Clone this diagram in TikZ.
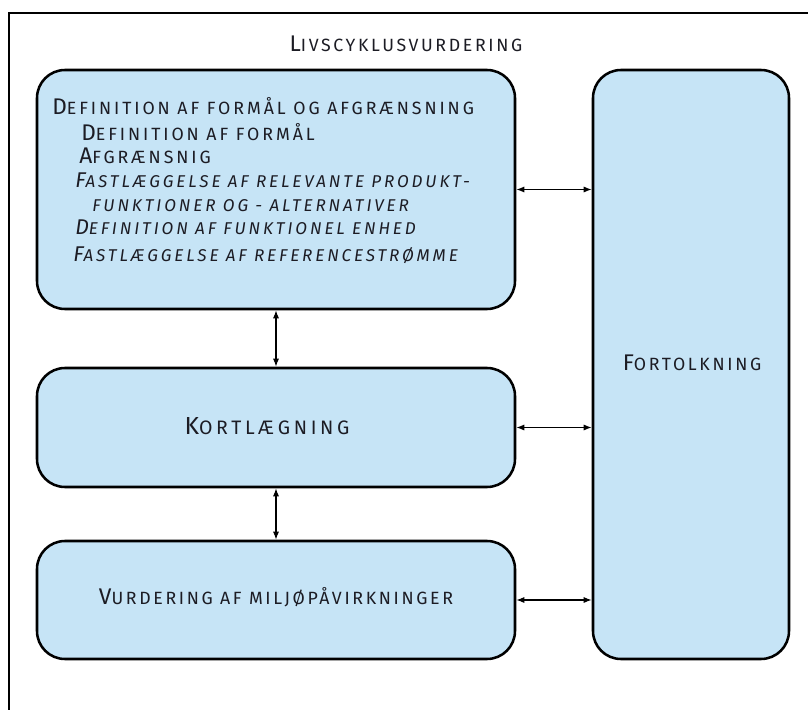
\documentclass[tikz,border=0pt]{standalone}
\usepackage{fontspec}
\setmainfont{Fira Sans}
\usetikzlibrary{arrows.meta}
\definecolor{boxfill}{RGB}{198,228,246}
\definecolor{ink}{RGB}{28,28,36}
\newcommand\SCsp[3][15]{{\fontsize{17}{18}\selectfont #2}{\fontsize{13.3}{14}\selectfont\addfontfeature{LetterSpace=#1}#3}}
\newcommand\SClarge[2]{{\fontsize{18.5}{20}\selectfont #1}{\fontsize{14.6}{16}\selectfont\addfontfeature{LetterSpace=19}#2}}
\newcommand\SCit[2]{{\itshape\fontsize{16}{18}\selectfont #1}{\itshape\fontsize{12.8}{14}\selectfont\addfontfeature{LetterSpace=17}#2}}
\tikzset{
  stage/.style={draw=black, line width=1.9pt, fill=boxfill, rounded corners=21pt, inner sep=0pt},
  lbl/.style={inner sep=0pt, text=ink},
  arr/.style={line width=0.8pt, {Latex[length=6pt,width=4.5pt]}-{Latex[length=6pt,width=4.5pt]}}
}
\begin{document}
\begin{tikzpicture}[x=0.75pt,y=-0.75pt]
\useasboundingbox (0,0) rectangle (808,710);
\begin{scope}
\clip (0,0) rectangle (808,710);
\draw[line width=1.6pt] (9,13) rectangle (840,740);
\end{scope}
\node[lbl, anchor=base] (title) at (406,52) {\SCsp{L}{IVSCYKLUSVURDERING}};
\node[stage, minimum width=358.5pt, minimum height=179.25pt] (def) at (276,189.5) {};
\node[stage, minimum width=358.5pt, minimum height=89.25pt] (kort) at (276,427.5) {};
\node[stage, minimum width=358.5pt, minimum height=88.5pt] (vurd) at (276,600) {};
\node[stage, minimum width=147pt, minimum height=441.75pt] (fort) at (691,364.5) {};
\node[lbl, anchor=base west] (d1) at (52,115) {\SCsp[16.5]{D}{EFINITION AF FORMÅL OG AFGRÆNSNING}};
\node[lbl, anchor=base west] (d2) at (81,141) {\SCsp[16.5]{D}{EFINITION AF FORMÅL}};
\node[lbl, anchor=base west] (d3) at (79,164) {\SCsp[16.5]{A}{FGRÆNSNIG}};
\node[lbl, anchor=base west] (d4) at (75,188) {\SCit{F}{ASTLÆGGELSE AF RELEVANTE PRODUKT-}};
\node[lbl, anchor=base west] (d5) at (92,211) {\SCit{}{FUNKTIONER OG - ALTERNATIVER}};
\node[lbl, anchor=base west] (d6) at (75,234) {\SCit{D}{EFINITION AF FUNKTIONEL ENHED}};
\node[lbl, anchor=base west] (d7) at (73,261.5) {\SCit{F}{ASTLÆGGELSE AF REFERENCESTRØMME}};
\node[lbl, anchor=base] (kt) at (267,434) {\SClarge{K}{ORTLÆGNING}};
\node[lbl, anchor=base] (vt) at (276,604) {\SCsp{V}{URDERING AF MILJØPÅVIRKNINGER}};
\node[lbl, anchor=base] (ft) at (692,370) {\SCsp{F}{ORTOLKNING}};
\draw[arr] (def.south) -- (kort.north);
\draw[arr] (kort.south) -- (vurd.north);
\draw[arr] (def.east) -- (def.east -| fort.west);
\draw[arr] (kort.east) -- (kort.east -| fort.west);
\draw[arr] (vurd.east) -- (vurd.east -| fort.west);
\end{tikzpicture}
\end{document}
